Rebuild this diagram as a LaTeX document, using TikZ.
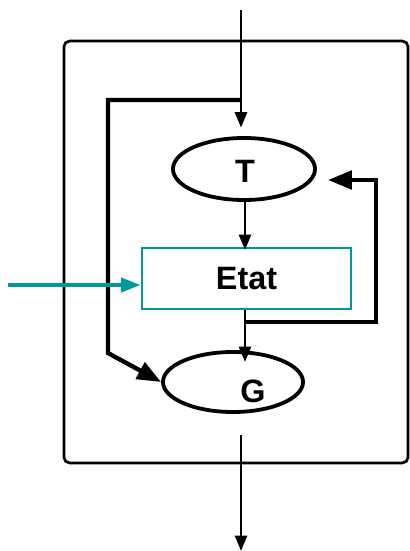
\documentclass[tikz,border=0pt]{standalone}
\usepackage{fontspec}
\setmainfont{Liberation Sans}
\usetikzlibrary{arrows.meta,shapes.geometric}
\definecolor{EtatTeal}{RGB}{0,153,153}

\begin{document}
\begin{tikzpicture}[x=0.025cm,y=-0.025cm,>={Triangle[length=11pt,width=8.5pt]},
  bigtip/.style={-{Triangle[length=17pt,width=13pt]}},
  lbl/.style={font=\fontsize{23}{27}\selectfont\bfseries}]
\useasboundingbox (0,0) rectangle (409,551);
\draw[line width=1.9pt,rounded corners=4pt] (64,41) rectangle (408,463);
\node[ellipse,draw,line width=2.7pt,minimum width=3.55cm,minimum height=1.55cm,inner sep=0pt] (t) at (244,169){};
\node[lbl] (tl) at (245,171){T};
\node[draw=EtatTeal,line width=1.9pt,minimum width=5.225cm,minimum height=1.525cm,inner sep=0pt,lbl] (etat) at (246.5,278.5){Etat};
\node[ellipse,draw,line width=2.7pt,minimum width=3.5cm,minimum height=1.5cm,inner sep=0pt] (g) at (233,382){};
\node[lbl] (gl) at (253,391){G};
\coordinate (in) at (241,10);\coordinate (tap) at (241,100);
\coordinate (etap) at (245,322);\coordinate (fb) at (328,180);
\coordinate (gin) at (245,362);\coordinate (src) at (8,285);
\coordinate (out) at (241,435);\coordinate (sink) at (241,551);
\draw[->,line width=2pt,shorten >=6pt] (in)--(in|-t.north);
\draw[->,line width=2pt] (245,200)--(245,250);
\draw[->,line width=2pt] (etat.south-|gin)--(gin);
\draw[->,line width=2pt] (out)--(sink);
\draw[bigtip,line width=3.1pt] (tap)-|(108,353)--(g.west);
\draw[bigtip,line width=3.1pt] (etap)-|(376,180)--(fb);
\draw[-{Triangle[length=14pt,width=10pt]},line width=2.7pt,EtatTeal] (src)--(etat.west|-src);
\end{tikzpicture}
\end{document}
